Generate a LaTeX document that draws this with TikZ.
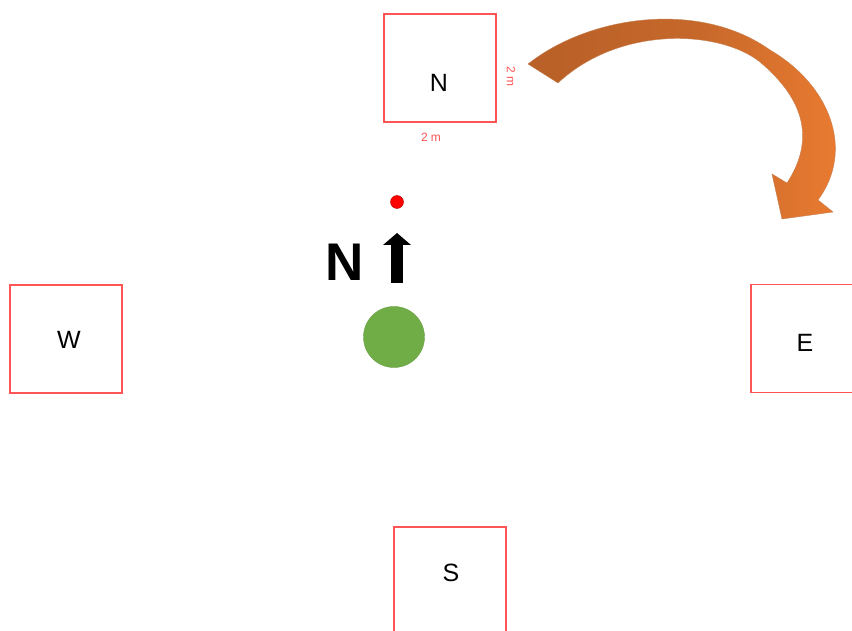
\documentclass[tikz,border=0pt]{standalone}
\usepackage{fontspec}
\setmainfont{Liberation Sans}
\definecolor{boxred}{RGB}{255,85,85}
\definecolor{darkorange}{RGB}{184,96,40}
\definecolor{lightorange}{RGB}{237,125,49}
\definecolor{dotred}{RGB}{255,0,0}
\definecolor{leafgreen}{RGB}{112,173,71}
\begin{document}
\begin{tikzpicture}[x=1pt,y=-1pt,
  sqbox/.style={draw=boxred,line width=1.5pt,minimum width=112pt,minimum height=108pt,inner sep=0pt},
  boxtext/.style={font=\fontsize{25}{25}\selectfont,text=black,inner sep=0pt},
  dimtext/.style={font=\fontsize{12}{12}\selectfont,text=boxred,inner sep=0pt}]
\clip (0,0) rectangle (852,631);
\fill[white] (0,0) rectangle (852,631);
% boxes
\node[sqbox] (nbox) at (440,68) {};
\node[sqbox] (wbox) at (66,339) {};
\node[sqbox] (ebox) at (807,338.5) {};
\node[sqbox] (sbox) at (450,581) {};
\node[boxtext] (nlab) at (439,83) {N};
\node[boxtext] (wlab) at (69,340) {W};
\node[boxtext] (elab) at (805,343) {E};
\node[boxtext] (slab) at (451,573) {S};
% dimensions
\node[dimtext,rotate=-90] (dimr) at (511,77) {2 m};
\node[dimtext] (dimb) at (431,137) {2 m};
% curved orange arrow
\shade[left color=darkorange,right color=lightorange,middle color=darkorange!75!lightorange,draw=darkorange!80,line width=0.4pt]
  (528,64) .. controls (590,15) and (700,0) .. (770,50)
  .. controls (830,85) and (855,150) .. (818,200)
  -- (833,212) -- (782,219) -- (772,174) -- (787,183)
  .. controls (815,140) and (805,100) .. (760,62)
  .. controls (720,30) and (620,25) .. (558,83) -- cycle;
% red dot
\node[circle,fill=dotred,draw=dotred!70!black,line width=0.4pt,minimum size=13pt,inner sep=0pt] (dot) at (397,202) {};
% north arrow
\fill[black] (391,245) rectangle (403,283);
\fill[black] (383,245) -- (397,233) -- (411,245) -- cycle;
\node[font=\fontsize{53}{53}\selectfont\bfseries,inner sep=0pt] (bign) at (345,262) {N};
% green circle
\node[circle,fill=leafgreen,draw=leafgreen!90!black,line width=0.4pt,minimum size=61pt,inner sep=0pt] (tree) at (394,337) {};
\end{tikzpicture}
\end{document}
